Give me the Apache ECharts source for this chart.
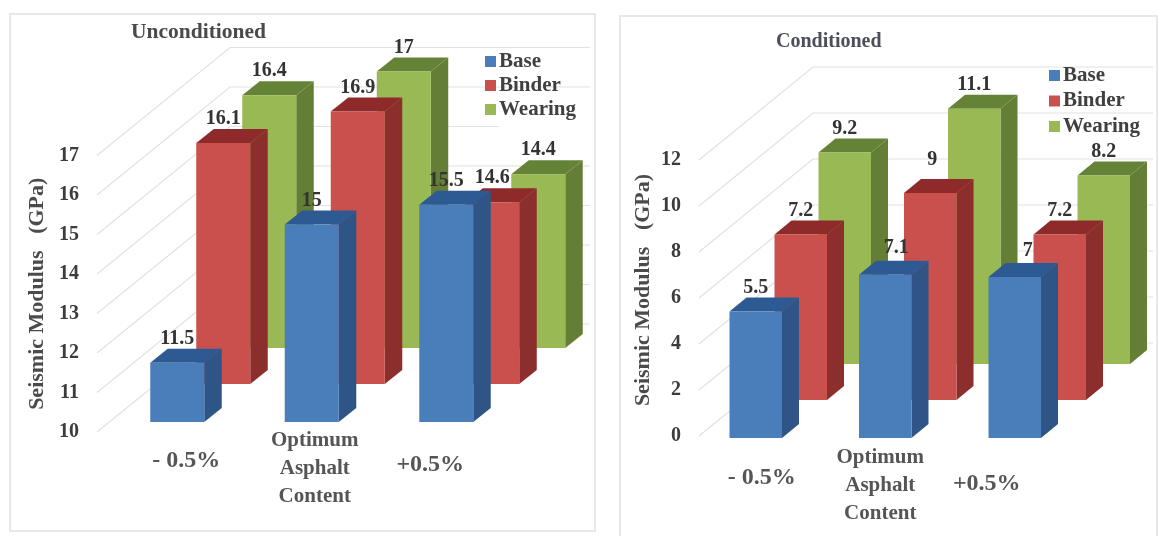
<!DOCTYPE html>
<html>
<head>
<meta charset="utf-8">
<title>Seismic Modulus</title>
<script src="https://cdn.jsdelivr.net/npm/echarts@6/dist/echarts.min.js"></script>
<style>
  html, body { margin: 0; padding: 0; background: #fff; }
  #chart { width: 1159px; height: 536px; }
</style>
</head>
<body>
<div id="chart"></div>
<script>
// valores
const categorias = ['- 0.5%', 'Optimum\nAsphalt\nContent', '+0.5%'];
const nombres = ['Base', 'Binder', 'Wearing'];

const sinBase = [11.5, 15, 15.5];
const sinBinder = [16.1, 16.9, 14.6];
const sinWearing = [16.4, 17, 14.4];
const sinTicks = [10, 11, 12, 13, 14, 15, 16, 17];

const conBase = [5.5, 7.1, 7];
const conBinder = [7.2, 9, 7.2];
const conWearing = [9.2, 11.1, 8.2];
const conTicks = [0, 2, 4, 6, 8, 10, 12];

const serif = '"Liberation Serif", serif';
const colores = [
    { frente: '#4a7ebb', lado: '#2f5587', arriba: '#2d5a92' },
    { frente: '#c9504c', lado: '#8c2e2c', arriba: '#8f2a2a' },
    { frente: '#98b954', lado: '#647f35', arriba: '#658336' }
];

// desplazamiento de cada fila de barras en la vista 3D
const vistas = [
    { ancho: 54, ladoX: 17.5, ladoY: -14, piso: 10, filas: [[13, -10], [59, -48], [105, -84]], fondoX: 133, fondoY: -108, finMuro: 590, cortes: { 15: 499 } },
    { ancho: 52.5, ladoX: 17, ladoY: -14, piso: 0, filas: [[-8, 2], [37, -36], [81, -72]], fondoX: 114, fondoY: -93, finMuro: 1153, cortes: {} }
];
const ajusteEtiqueta = { '1-0-1': [11, -3], '1-0-2': [13, -2], '1-1-1': [2, -9] };

function barra3d(vista, fila) {
    return function (params, api) {
        let i = api.value(0);
        let v = api.value(1);
        let f = vistas[vista];
        let off = f.filas[fila];
        let base = api.coord([i, f.piso]);
        let tope = api.coord([i, v]);
        let x0 = base[0] + off[0] - f.ancho / 2;
        let x1 = x0 + f.ancho;
        let y0 = base[1] + off[1];
        let y1 = tope[1] + off[1];
        let c = colores[fila];
        let nudge = ajusteEtiqueta[vista + '-' + fila + '-' + i] || [0, 0];
        return {
            type: 'group',
            children: [
                { type: 'polygon', shape: { points: [[x1, y0], [x1 + f.ladoX, y0 + f.ladoY], [x1 + f.ladoX, y1 + f.ladoY], [x1, y1]] }, style: { fill: c.lado } },
                { type: 'polygon', shape: { points: [[x0, y1], [x1, y1], [x1 + f.ladoX, y1 + f.ladoY], [x0 + f.ladoX, y1 + f.ladoY]] }, style: { fill: c.arriba } },
                { type: 'rect', shape: { x: x0, y: y1, width: f.ancho, height: y0 - y1 }, style: { fill: c.frente } },
                {
                    type: 'text',
                    x: (x0 + x1) / 2 + nudge[0],
                    y: y1 - 24 + nudge[1],
                    style: { text: String(v), fill: '#333', font: 'bold 20px ' + serif, align: 'center', verticalAlign: 'middle' }
                }
            ]
        };
    };
}

function muro(vista) {
    return function (params, api) {
        let f = vistas[vista];
        let t = api.value(1);
        let p = api.coord([0, t]);
        let x = params.coordSys.x;
        let fin = f.cortes[t] || f.finMuro;
        return {
            type: 'polyline',
            shape: { points: [[x, p[1]], [x + f.fondoX, p[1] + f.fondoY], [fin, p[1] + f.fondoY]] },
            style: { fill: 'none', stroke: '#e2e2e2', lineWidth: 1.2 }
        };
    };
}

function serieMuro(ticks, vista) {
    return {
        type: 'custom',
        silent: true,
        xAxisIndex: vista,
        yAxisIndex: vista,
        z: 1,
        data: ticks.map(t => [0, t]),
        encode: { x: 0, y: 1 },
        renderItem: muro(vista)
    };
}

function serieBarra(valores, fila, vista) {
    return {
        type: 'custom',
        name: nombres[fila],
        xAxisIndex: vista,
        yAxisIndex: vista,
        z: 5 - fila,
        itemStyle: { color: colores[fila].frente },
        data: valores.map((v, i) => [i, v]),
        encode: { x: 0, y: 1 },
        renderItem: barra3d(vista, fila)
    };
}

function ejeX(grid, margenes) {
    return {
        type: 'category',
        gridIndex: grid,
        data: categorias.map((c, i) => ({ value: c, textStyle: { padding: margenes[i], fontSize: i == 1 ? 21 : 24 } })),
        axisLine: { show: false },
        axisTick: { show: false },
        axisLabel: { margin: -6, interval: 0, fontFamily: serif, fontSize: 21, fontWeight: 'bold', color: '#555', lineHeight: 28 }
    };
}

function ejeY(grid, min, max, intervalo, gapNombre, subir) {
    return {
        type: 'value',
        gridIndex: grid,
        min: min,
        max: max,
        interval: intervalo,
        name: 'Seismic Modulus   (GPa)',
        nameLocation: 'middle',
        nameRotate: 90,
        nameGap: gapNombre,
        nameTextStyle: { fontFamily: serif, fontSize: 22, fontWeight: 'bold', color: '#4d4a4a', padding: [0, 0, 0, subir] },
        axisLine: { show: false },
        axisTick: { show: false },
        splitLine: { show: false },
        axisLabel: { margin: 18, fontFamily: serif, fontSize: 20, fontWeight: 'bold', color: '#3c3c3c' }
    };
}

function leyenda(left, top, gap) {
    return {
        data: nombres,
        orient: 'vertical',
        left: left,
        top: top,
        icon: 'rect',
        itemWidth: 11,
        itemHeight: 11,
        itemGap: gap,
        selectedMode: false,
        textStyle: { fontFamily: serif, fontSize: 21, fontWeight: 'bold', color: '#404040', padding: [0, 0, 0, -2] }
    };
}

function marco(x, y, w, h) {
    return { type: 'rect', silent: true, z: -1, shape: { x: x, y: y, width: w, height: h }, style: { fill: 'none', stroke: '#e8e8e8', lineWidth: 2 } };
}

const myChart = echarts.init(document.getElementById('chart'));
myChart.setOption({
    animation: false,
    backgroundColor: '#fff',
    title: [
        { text: 'Unconditioned', left: 126, top: 16, textStyle: { fontFamily: serif, fontSize: 21.5, fontWeight: 'bold', color: '#4a4a4a' } },
        { text: 'Conditioned', left: 771, top: 27, textStyle: { fontFamily: serif, fontSize: 20, fontWeight: 'bold', color: '#4a4f5a' } }
    ],
    legend: [leyenda(480, 46, 3), leyenda(1044, 60, 4.5)],
    graphic: [marco(10, 14, 585, 517), marco(620, 16, 537, 530)],
    grid: [
        { left: 97, top: 155.5, width: 403.5, height: 276.5 },
        { left: 699, top: 160, width: 388.5, height: 276 }
    ],
    xAxis: [
        ejeX(0, [[21, 0, 0, 44], [1, 0, 0, 32], [25, 6, 0, 0]]),
        ejeX(1, [[34, 4, 0, 0], [14, 26, 0, 0], [40, 72, 0, 0]])
    ],
    yAxis: [
        ejeY(0, 10, 17, 1, 49, 0),
        ejeY(1, 0, 12, 2, 45, 16)
    ],
    series: [
        serieMuro(sinTicks, 0),
        serieMuro(conTicks, 1),
        serieBarra(sinWearing, 2, 0),
        serieBarra(sinBinder, 1, 0),
        serieBarra(sinBase, 0, 0),
        serieBarra(conWearing, 2, 1),
        serieBarra(conBinder, 1, 1),
        serieBarra(conBase, 0, 1)
    ]
});
</script>
</body>
</html>
